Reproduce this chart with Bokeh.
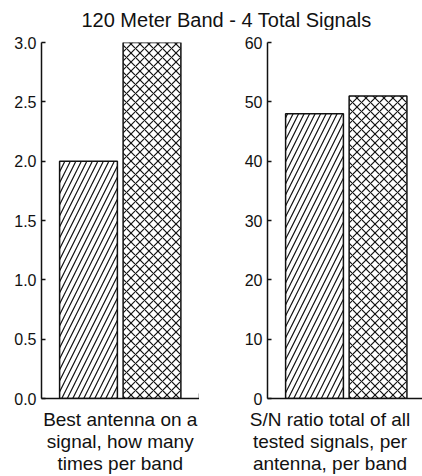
from bokeh.plotting import figure
from bokeh.layouts import column, row
from bokeh.models import Range1d, FixedTicker, Label, ColumnDataSource
from bokeh.embed import file_html
from bokeh.resources import INLINE

# ---- data ----
title_text = "120 Meter Band - 4 Total Signals"
antennas = ["Antenna 1", "Antenna 2"]
hatches = ["/", "x"]
best_counts = [2, 3]
sn_totals = [48, 51]
best_ticks = [0.0, 0.5, 1.0, 1.5, 2.0, 2.5, 3.0]
sn_ticks = [0, 10, 20, 30, 40, 50, 60]
best_label = "Best antenna on a\nsignal, how many\ntimes per band"
sn_label = "S/N ratio total of all\ntested signals, per\nantenna, per band"

FONT = "Liberation Sans"
INK = "#111111"
HATCH_SCALES = [11, 9]


def panel(values, ticks, label, label_x, x_end, width, border_left, edge_tick):
    p = figure(width=width, height=446,
               x_range=Range1d(0.26, x_end), y_range=Range1d(ticks[0], ticks[-1]),
               toolbar_location=None, output_backend="svg",
               min_border_left=border_left, min_border_right=0,
               min_border_top=12, min_border_bottom=76)
    src = ColumnDataSource(dict(x=[i + 1 for i in range(len(values))], top=values,
                                name=antennas, hatch=hatches, hscale=HATCH_SCALES))
    p.vbar(x="x", top="top", width=0.91, bottom=0, source=src,
           fill_color="white", line_color=INK, line_width=1.5,
           hatch_pattern="hatch", hatch_color=INK, hatch_scale="hscale", hatch_weight=1.2)
    p.xgrid.visible = False
    p.ygrid.visible = False
    p.outline_line_color = None
    p.background_fill_color = "white"
    p.border_fill_color = "white"

    ya = p.yaxis[0]
    ya.ticker = FixedTicker(ticks=ticks, minor_ticks=[])
    if isinstance(ticks[0], float):
        ya.major_label_overrides = {t: f"{t:.1f}" for t in ticks}
    ya.major_tick_in = 4
    ya.major_tick_out = 0
    ya.minor_tick_in = 0
    ya.minor_tick_out = 0
    ya.major_label_standoff = 5
    ya.major_label_text_font = FONT
    ya.major_label_text_font_size = "16px"
    ya.major_label_text_color = INK
    ya.axis_line_color = INK
    ya.axis_line_width = 1.5
    ya.major_tick_line_color = INK
    ya.major_tick_line_width = 1.5

    xa = p.xaxis[0]
    xa.ticker = FixedTicker(ticks=[label_x], minor_ticks=edge_tick)
    xa.major_label_overrides = {label_x: label}
    xa.major_tick_in = 0
    xa.major_tick_out = 0
    xa.minor_tick_in = 5
    xa.minor_tick_out = 0
    xa.minor_tick_line_color = INK
    xa.minor_tick_line_width = 1.5
    xa.major_label_standoff = 10
    xa.major_label_text_font = FONT
    xa.major_label_text_font_size = "19px"
    xa.major_label_text_line_height = 1.05
    xa.major_label_text_color = INK
    xa.axis_line_color = INK
    xa.axis_line_width = 1.5
    return p


p1 = panel(best_counts, best_ticks, best_label, 1.5, 2.748, 199, 41, [2.748])
p2 = panel(sn_totals, sn_ticks, sn_label, 1.244, 2.70, 223, 68, [])

t = figure(width=422, height=30, x_range=Range1d(0, 1), y_range=Range1d(0, 1),
           toolbar_location=None, output_backend="svg",
           min_border=0)
t.axis.visible = False
t.grid.visible = False
t.outline_line_color = None
t.add_layout(Label(x=226, y=11, x_units="screen", y_units="screen", text=title_text,
                   text_align="center", text_baseline="middle",
                   text_font=FONT, text_font_size="20px", text_color=INK))

layout = column(t, row(p1, p2))
open("out.html", "w").write(file_html(layout, INLINE))
